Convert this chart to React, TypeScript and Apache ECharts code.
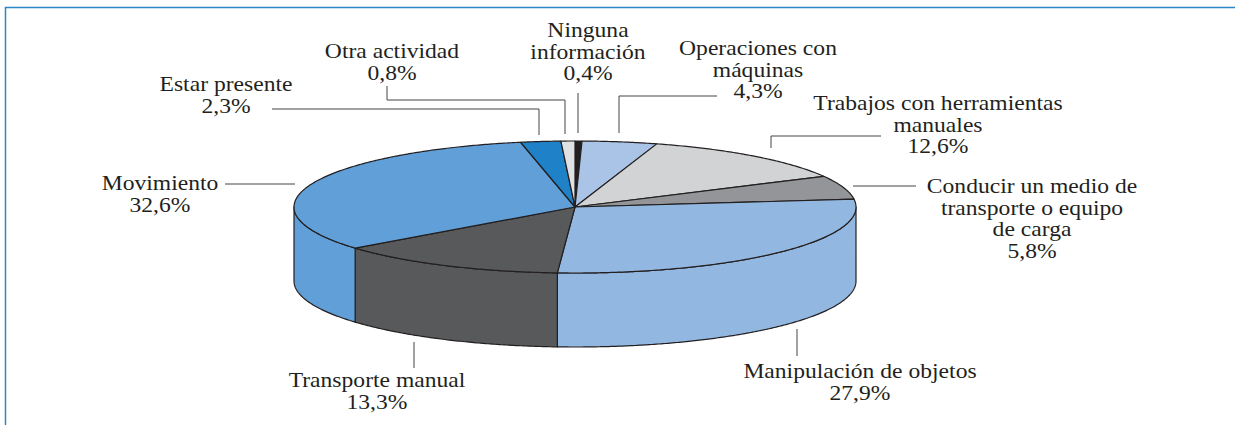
import React, { useEffect, useRef } from "react";
import * as echarts from "echarts";

const categories = [
  "Ninguna información",
  "Operaciones con máquinas",
  "Trabajos con herramientas manuales",
  "Conducir un medio de transporte o equipo de carga",
  "Manipulación de objetos",
  "Transporte manual",
  "Movimiento",
  "Estar presente",
  "Otra actividad",
];
const values = [0.4, 4.3, 12.6, 5.8, 27.9, 13.3, 32.6, 2.3, 0.8];
const sliceColors = ["#231f20", "#a9c4e6", "#d1d3d4", "#939598", "#92b7e0", "#58595b", "#609fd8", "#1f82c8", "#dfe1e3"];
const labelLines = [
  ["Ninguna", "información"],
  ["Operaciones con", "máquinas"],
  ["Trabajos con herramientas", "manuales"],
  ["Conducir un medio de", "transporte o equipo", "de carga"],
  ["Manipulación de objetos"],
  ["Transporte manual"],
  ["Movimiento"],
  ["Estar presente"],
  ["Otra actividad"],
];

const CX = 575, CY = 207, RX = 281, RY = 66, DEPTH = 74;
const INK = "#231f20";
const FONT = '"Liberation Serif", serif';
const LINE_H = 21.5;
const total = values.reduce((a, b) => a + b, 0);
const startAngles: number[] = [];
values.reduce((acc, v, i) => { startAngles[i] = (acc / total) * 360; return acc + v; }, 0);
const pt = (deg: number, dy = 0) => {
  const r = (deg * Math.PI) / 180;
  return [CX + RX * Math.sin(r), CY + dy - RY * Math.cos(r)];
};
const arc = (a: number, b: number, dy = 0) => {
  const out: number[][] = [];
  const n = Math.max(2, Math.ceil((b - a) * 2));
  for (let i = 0; i <= n; i++) out.push(pt(a + ((b - a) * i) / n, dy));
  return out;
};
const sliceStyle = (i: number) => ({ fill: sliceColors[i], stroke: INK, lineWidth: 1.2, lineJoin: "round" });

const labelPlace = [
  { x: 588, y: 30 }, { x: 758, y: 48 }, { x: 938, y: 103 }, { x: 1032, y: 186 }, { x: 860, y: 371 },
  { x: 377, y: 380 }, { x: 160, y: 183 }, { x: 226, y: 84 }, { x: 392, y: 51 },
];
const leaders = [
  [[578, 93], [578, 133]],
  [[717, 96], [619, 96], [619, 133]],
  [[881, 136], [771, 136], [771, 148]],
  [[853, 186], [916, 186]],
  [[797, 329], [797, 356]],
  [[414, 342], [414, 368]],
  [[225, 184], [295, 184]],
  [[272, 109], [539, 109], [539, 135]],
  [[387, 86], [387, 100], [565, 100], [565, 134]],
];

export default function App() {
  const ref = useRef<HTMLDivElement>(null);
  useEffect(() => {
    const chart = echarts.init(ref.current!, undefined, { renderer: "svg" });
    const texts = categories.map((_, i) => ({
      type: "text", x: labelPlace[i].x, y: labelPlace[i].y - LINE_H / 2, z: 5, scaleX: 1.124,
      style: {
        text: [...labelLines[i], values[i].toFixed(1).replace(".", ",") + "%"].join("\n"),
        fill: INK, font: `21px ${FONT}`, lineHeight: LINE_H, align: "center", verticalAlign: "top",
      },
    }));
    chart.setOption({
      animation: false,
      backgroundColor: "#ffffff",
      graphic: {
        elements: [
          { type: "polyline", shape: { points: [[5.5, 425], [5.5, 7.5], [1235, 7.5]] }, style: { stroke: "#2a86c4", lineWidth: 1.5, fill: "none" }, z: 1 },
          ...leaders.map((points) => ({ type: "polyline", shape: { points }, style: { stroke: "#444446", lineWidth: 1, fill: "none" }, z: 1 })),
          ...texts,
        ],
      },
      series: [
        {
          type: "custom", coordinateSystem: "none", silent: true, z: 2, data: values,
          renderItem: (p: any) => {
            const i = p.dataIndex;
            const a = Math.max(startAngles[i], 90);
            const b = Math.min(startAngles[i] + (values[i] / total) * 360, 270);
            if (b <= a) return null;
            return {
              type: "polygon",
              shape: { points: [...arc(a, b), ...arc(a, b, DEPTH).reverse()] },
              style: sliceStyle(i),
            };
          },
        },
        {
          type: "custom", coordinateSystem: "none", silent: true, z: 3, data: values,
          renderItem: (p: any) => {
            const i = p.dataIndex;
            const a = startAngles[i];
            const b = a + (values[i] / total) * 360;
            return {
              type: "polygon",
              shape: { points: [[CX, CY], ...arc(a, b)] },
              style: sliceStyle(i),
            };
          },
        },
      ],
    });
    return () => chart.dispose();
  }, []);
  return <div ref={ref} style={{ position: "absolute", left: 0, top: 0, width: 1235, height: 425 }} />;
}
